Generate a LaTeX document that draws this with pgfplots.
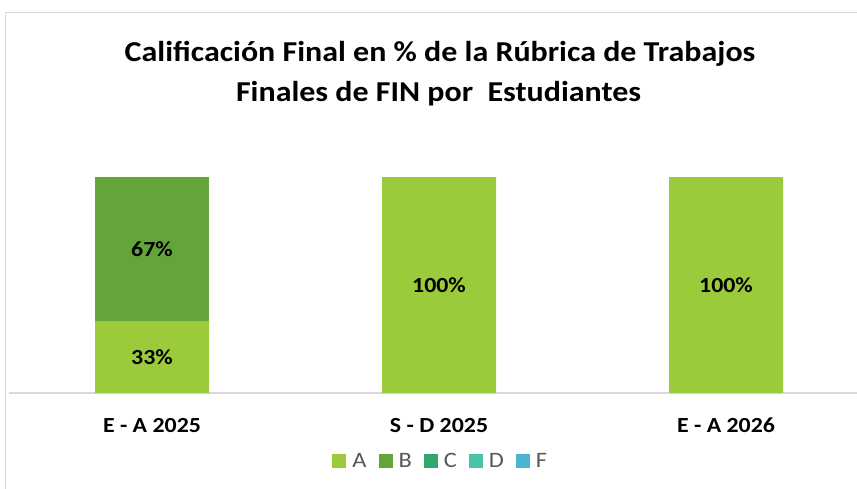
\documentclass[border=0pt]{standalone}
\usepackage{pgfplots}
\pgfplotsset{compat=1.18}
\usepackage{fontspec}
\setmainfont[FakeStretch=1.11]{Carlito}
\definecolor{colA}{RGB}{155,203,58}
\definecolor{colB}{RGB}{99,165,57}
\definecolor{colC}{RGB}{52,166,110}
\definecolor{colD}{RGB}{69,196,167}
\definecolor{colF}{RGB}{75,178,208}
\definecolor{gridgray}{RGB}{217,217,217}
\definecolor{legtext}{RGB}{89,89,89}
\begin{document}
\begin{tikzpicture}[x=1pt,y=1pt]
\useasboundingbox (0,0) rectangle (857,488);
\clip (0,0) rectangle (857,488);
\fill[white] (0,0) rectangle (857,488);
\draw[gridgray, line width=1pt] (5.5,-20) -- (5.5,475.5) -- (900,475.5);
\node[anchor=base, font=\fontsize{28.8}{32}\selectfont\bfseries] at (440,426.3) {Calificación Final en \% de la Rúbrica de Trabajos};
\node[anchor=base, font=\fontsize{28.8}{32}\selectfont\bfseries] at (438.5,386.3) {Finales de FIN por\ \ Estudiantes};
\begin{axis}[
  at={(8.5pt,95pt)}, anchor=south west,
  width=861pt, height=216pt, scale only axis,
  xmin=-0.5, xmax=2.5, ymin=0, ymax=100,
  ybar stacked, bar width=114pt,
  axis x line*=bottom, axis y line=none,
  x axis line style={gridgray, line width=1.2pt, -},
  xtick={0,1,2}, xticklabels={E - A 2025, S - D 2025, E - A 2026},
  major tick length=0pt,
  xticklabel style={anchor=base, yshift=-39pt, font=\fontsize{21.5}{24}\selectfont\bfseries},
  legend style={at={(0.502,-0.315)}, anchor=center, draw=none, fill=none,
    legend columns=-1, font=\fontsize{22}{24}\selectfont\color{legtext},
    /tikz/every even column/.append style={column sep=10pt}},
  legend image code/.code={\fill[#1] (0pt,-7pt) rectangle (14pt,7pt); \path (18pt,0pt);},
  clip=false,
]
\addplot[fill=colA, draw=none] coordinates {(0,33.33) (1,100) (2,100)};
\addlegendentry{A}
\addplot[fill=colB, draw=none] coordinates {(0,66.67) (1,0) (2,0)};
\addlegendentry{B}
\addlegendimage{fill=colC, draw=none}
\addlegendentry{C}
\addlegendimage{fill=colD, draw=none}
\addlegendentry{D}
\addlegendimage{fill=colF, draw=none}
\addlegendentry{F}
\end{axis}
\begin{axis}[
  at={(8.5pt,95pt)}, anchor=south west,
  width=861pt, height=216pt, scale only axis,
  xmin=-0.5, xmax=2.5, ymin=0, ymax=100,
  axis lines=none, clip=false,
]
\addplot[only marks, mark=none, draw=none,
  point meta=explicit symbolic, nodes near coords,
  every node near coord/.append style={anchor=center, font=\fontsize{21.5}{24}\selectfont\bfseries, text=black}]
  coordinates {(0,16.67)[33\%] (0,66.67)[67\%] (1,50)[100\%] (2,50)[100\%]};
\end{axis}
\end{tikzpicture}
\end{document}
